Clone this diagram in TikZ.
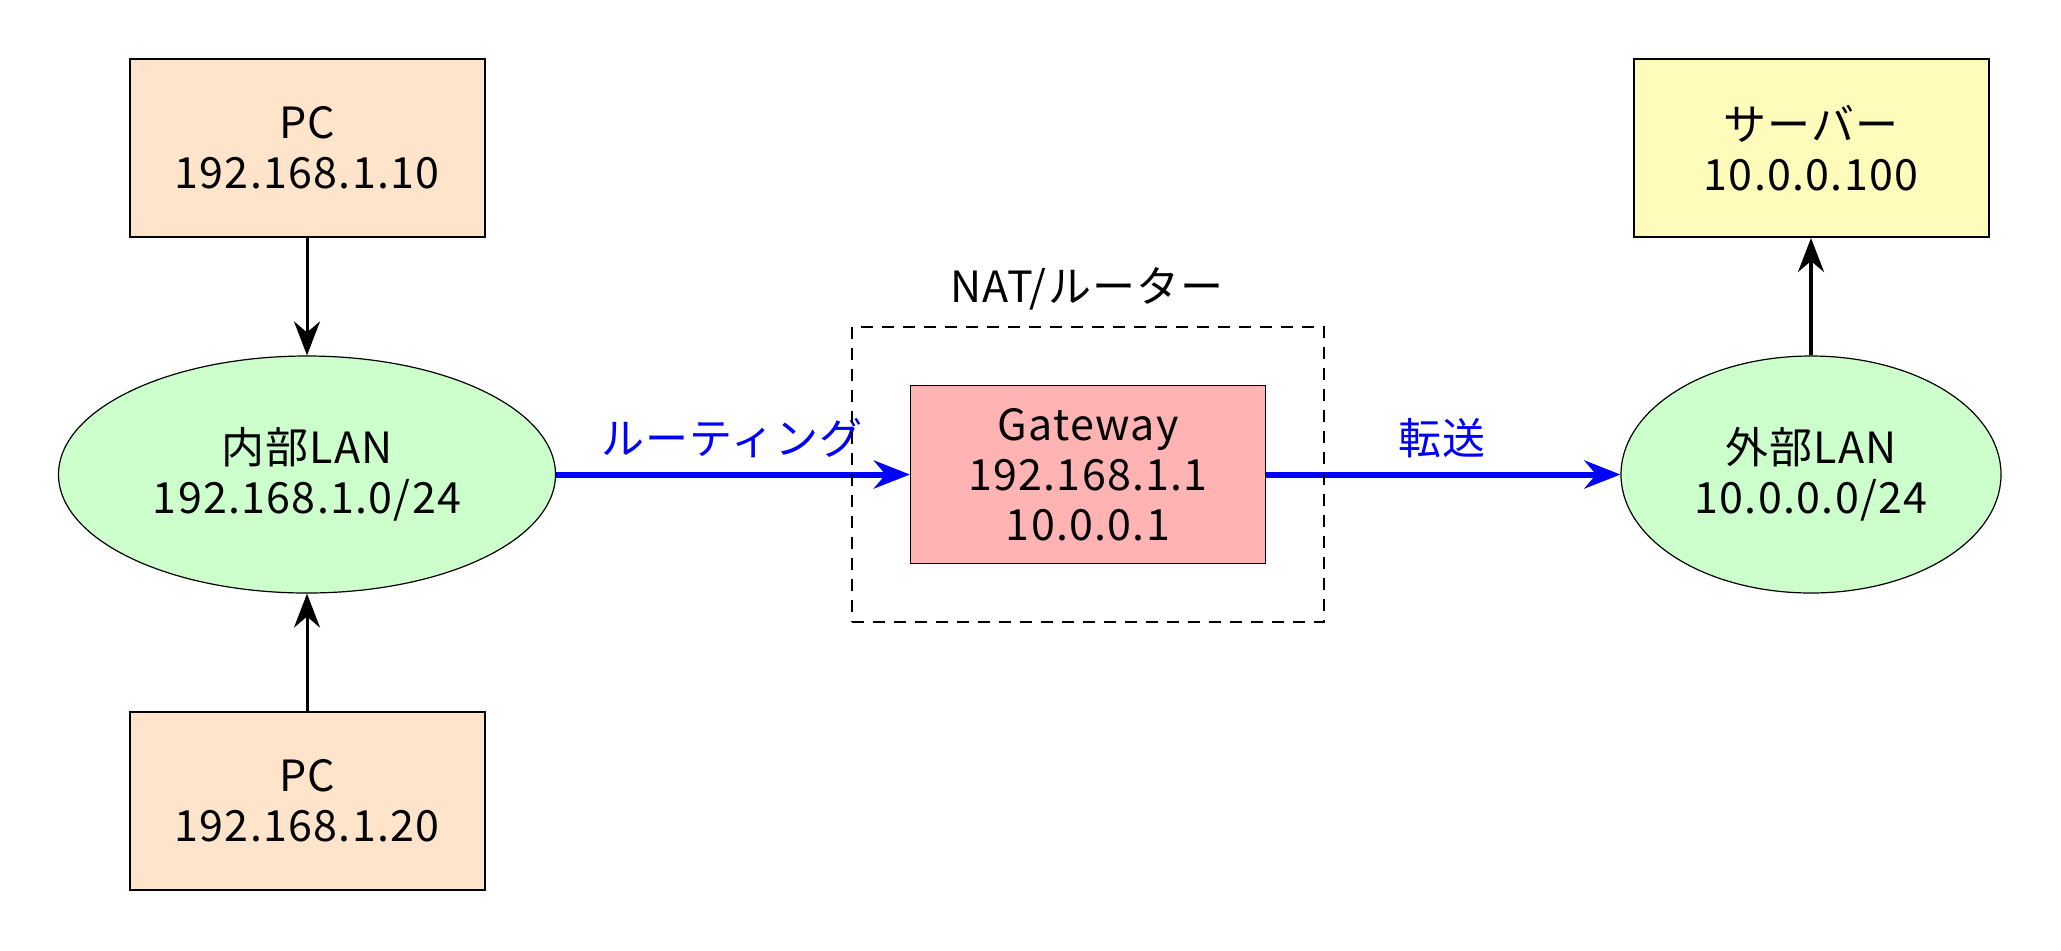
\documentclass[tikz,border=0pt]{standalone}
\usepackage{fontspec}
\setmainfont[LetterSpace=3]{Noto Sans CJK JP}
\usetikzlibrary{arrows.meta,shapes.geometric}
\definecolor{pcorange}{RGB}{255,228,204}
\definecolor{langreen}{RGB}{204,255,204}
\definecolor{gwpink}{RGB}{255,179,179}
\definecolor{srvyellow}{RGB}{255,251,187}
\definecolor{routeblue}{RGB}{0,0,255}

\begin{document}
\begin{tikzpicture}[x=.5pt,y=-.5pt,
  every node/.style={font=\fontsize{21.5}{25}\selectfont,align=center},
  hostbox/.style={draw,line width=1pt,minimum width=177.5pt,minimum height=89pt,inner sep=0pt},
  lanoval/.style={draw,ellipse,line width=.6pt,fill=langreen,minimum height=118.5pt,inner sep=0pt},
  link/.style={line width=1.5pt,-{Stealth[length=17pt,width=13pt]}},
  route/.style={line width=3pt,routeblue,-{Stealth[length=18pt,width=14pt]}}]
  \useasboundingbox (0,0) rectangle (2061,950);
  \node[hostbox,fill=pcorange] (pc1) at (307,148) {PC\\192.168.1.10};
  \node[hostbox,fill=pcorange] (pc2) at (307,801) {PC\\192.168.1.20};
  \node[lanoval,minimum width=248.5pt] (inlan) at (307,474.5) {内部LAN\\192.168.1.0/24};
  \node[hostbox,fill=gwpink,line width=.6pt] (gw) at (1088,474.5) {Gateway\\192.168.1.1\\10.0.0.1};
  \node[lanoval,minimum width=190pt] (outlan) at (1811,474.5) {外部LAN\\10.0.0.0/24};
  \node[hostbox,fill=srvyellow] (srv) at (1811,148) {サーバー\\10.0.0.100};

  \draw[link] (pc1) -- (inlan);
  \draw[link] (pc2) -- (inlan);
  \draw[link,line width=2pt] (outlan) -- (srv);
  \draw[route] (inlan) -- (gw);
  \draw[route] (gw) -- (outlan);
  \node[text=routeblue] (routelbl) at (732,438) {ルーティング};
  \node[text=routeblue] (fwdlbl) at (1442,438) {転送};

  \node[draw,line width=.7pt,dash pattern=on 6pt off 4.5pt,minimum width=236pt,minimum height=147.5pt] (natbox) at (1088,474.5) {};
  \node (natlbl) at (1087,289) {NAT/ルーター};
\end{tikzpicture}
\end{document}
